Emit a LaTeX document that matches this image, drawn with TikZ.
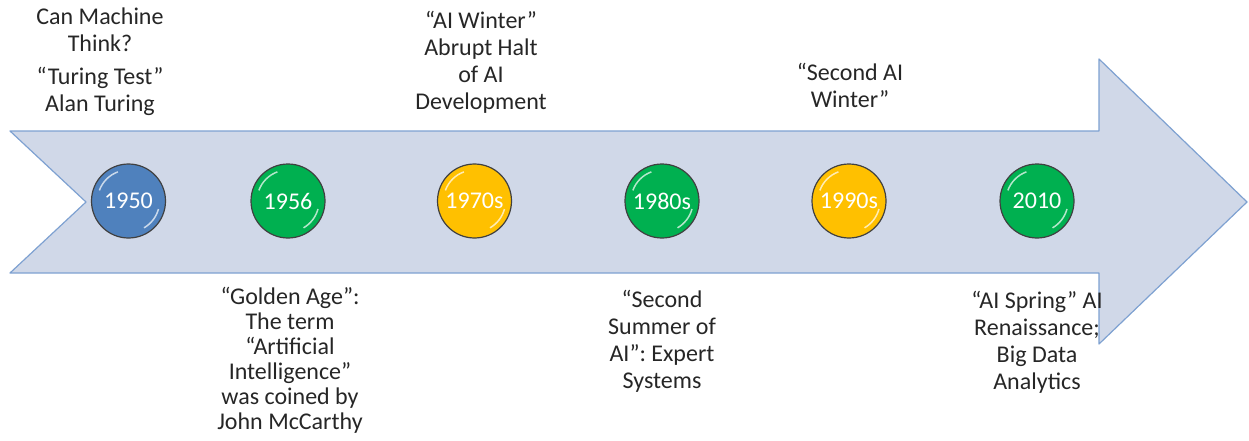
\documentclass[tikz,border=0pt]{standalone}
\usepackage{fontspec}
\setmainfont{Carlito}
\usetikzlibrary{positioning}
\definecolor{arrowfill}{HTML}{D0D8E8}
\definecolor{arrowline}{HTML}{7EA1D1}
\definecolor{ballblue}{HTML}{4F81BD}
\definecolor{ballgreen}{HTML}{00B050}
\definecolor{ballyellow}{HTML}{FFC000}
\definecolor{ink}{HTML}{262626}

\begin{document}
\begin{tikzpicture}[x=1pt,y=-1pt]
\tikzstyle{year}=[circle,draw=black!75,line width=1.2pt,minimum size=74pt,
inner sep=0pt,text=white,font=\fontsize{24}{27}\selectfont,
path picture={\draw[white,line width=1.5pt,opacity=.7]
(path picture bounding box.center) ++(200:31) arc[start angle=200,end angle=250,radius=31];
\draw[white,line width=1.5pt,opacity=.7]
(path picture bounding box.center) ++(15:31) arc[start angle=15,end angle=60,radius=31];}]
\tikzstyle{note}=[align=center,text=ink,inner sep=0pt,anchor=base,
font=\fontsize{24}{27}\selectfont]

\useasboundingbox (0,0) rectangle (1249,441);

% the big arrow
\draw[arrowline,fill=arrowfill,line width=1.2pt,line join=round]
(10,131) -- (1099,131) -- (1099,59) -- (1247,202) -- (1099,344)
-- (1099,273) -- (10,273) -- (86,202) -- cycle;

% years
\node[year,fill=ballblue] (y1950) at (128.5,201) {1950};
\node[year,fill=ballgreen] (y1956) at (288,201) {1956};
\node[year,fill=ballyellow] (y1970) at (474.5,201) {1970s};
\node[year,fill=ballgreen] (y1980) at (662,201) {1980s};
\node[year,fill=ballyellow] (y1990) at (849,201) {1990s};
\node[year,fill=ballgreen] (y2010) at (1037,201) {2010};

% notes above (anchored at the last line)
\node[note] (think) at (100,52) {Can Machine\\Think?};
\node[note] (turing) at (100,112) {“Turing Test”\\Alan Turing};
\node[note] (winter) at (481,110) {“AI Winter”\\Abrupt Halt\\of AI\\Development};
\node[note] (winter2) at (850,108) {“Second AI\\Winter”};

% notes below
\node[note,font=\fontsize{24}{25}\selectfont] (golden) at (290,429)
{“Golden Age”:\\The term\\“Artificial\\Intelligence”\\was coined by\\John McCarthy};
\node[note] (summer) at (662,388) {“Second\\Summer of\\AI”: Expert\\Systems};
\node[note] (spring) at (1037,389) {“AI Spring” AI\\Renaissance;\\Big Data\\Analytics};
\end{tikzpicture}
\end{document}
